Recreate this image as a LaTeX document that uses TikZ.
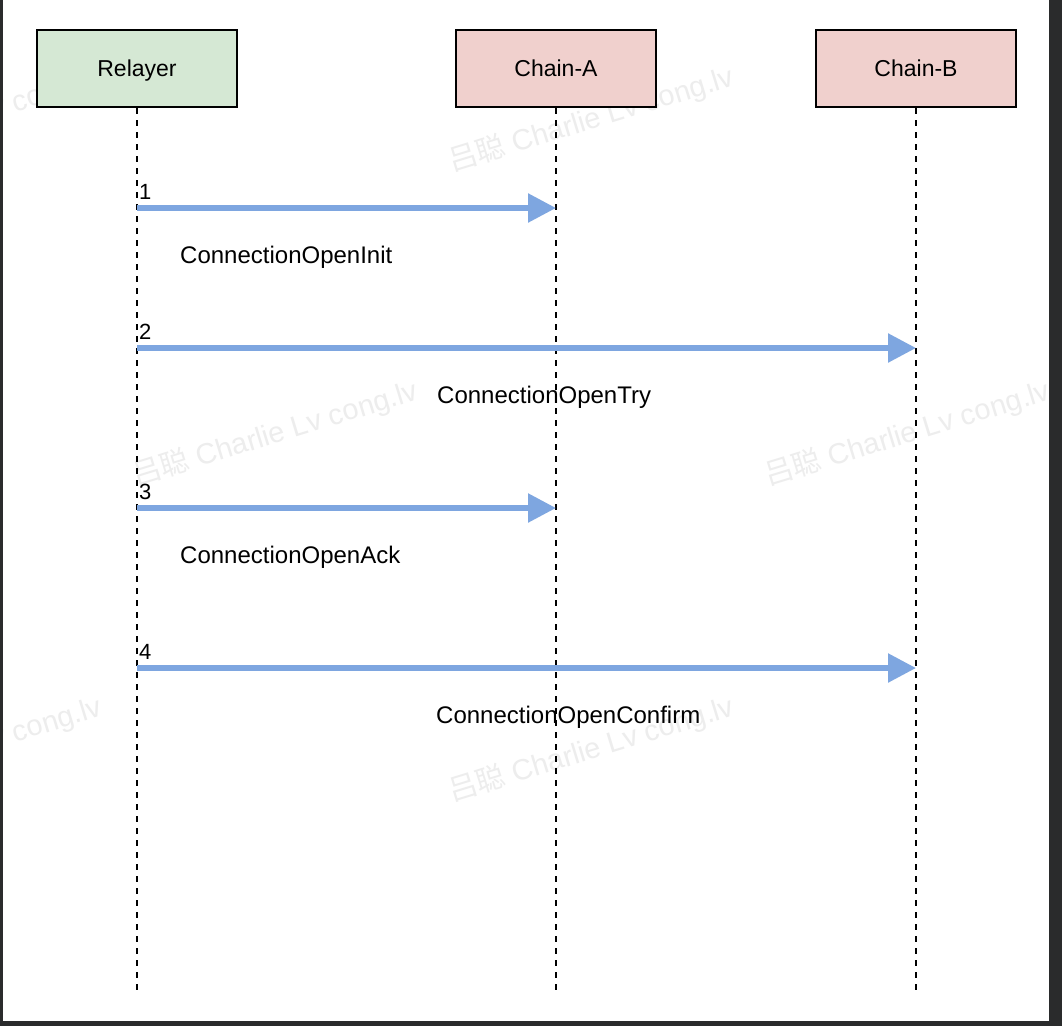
\documentclass[tikz,border=0pt]{standalone}
\usepackage{fontspec}
\setmainfont{Liberation Sans}
\newfontfamily\cjk{Noto Sans CJK SC}
\usepackage[svgnames]{xcolor}
\usepackage{tikz}
\usetikzlibrary{arrows.meta}
\definecolor{RelayerGreen}{HTML}{D5E8D4}
\definecolor{ChainRed}{HTML}{F0D0CD}
\definecolor{MsgBlue}{HTML}{7EA6E0}
\definecolor{FrameGrey}{HTML}{2A2B2C}

\begin{document}
\begin{tikzpicture}[x=1pt,y=-1pt]
        \tikzset{
            actor/.style={draw=black,line width=2pt,minimum width=200pt,minimum height=77pt,
                inner sep=0pt,text height=16.5pt,text depth=0pt,font=\fontsize{23}{28}\selectfont},
            lifeline/.style={line width=2pt,dash pattern=on 6pt off 6pt},
            message/.style={MsgBlue,line width=5.5pt,-{Triangle[length=28pt,width=28pt]}},
            msglabel/.style={anchor=west,inner sep=0pt,font=\fontsize{24}{29}\selectfont},
            msgnum/.style={anchor=south west,inner sep=0pt,font=\fontsize{22}{26}\selectfont},
            watermark/.style={anchor=base west,inner sep=0pt,rotate=17,text=black!7,
                font=\fontsize{29}{34}\selectfont}
        }

        % screenshot frame
        \useasboundingbox (0,0) rectangle (1062,1026);
        \fill[FrameGrey] (0,0) rectangle (1062,1026);
        \fill[white] (3,0) rectangle (1049,1021);

        \begin{scope}
            \clip (3,0) rectangle (1049,1021);
            \foreach \wx/\wy [count=\i] in {-180/172, 452/172, 136/486, 768/486, -180/802, 452/802} {
                \node[watermark] (wm\i) at (\wx,\wy) {{\cjk 吕聪} Charlie Lv cong.lv};
            }
        \end{scope}

        \node[actor,fill=RelayerGreen] (relayer) at (137,68.5) {Relayer};
        \node[actor,fill=ChainRed] (chainA) at (556,68.5) {Chain-A};
        \node[actor,fill=ChainRed] (chainB) at (916,68.5) {Chain-B};

        \foreach \a/\x in {relayer/137, chainA/556, chainB/916} {
            \coordinate (\a end) at (\x,990);
            \draw[lifeline] (\a) -- (\a end);
        }

        \foreach \n/\y/\dx/\lx/\txt in {1/208/556/180/ConnectionOpenInit,
                                        2/348/916/437/ConnectionOpenTry,
                                        3/508/556/180/ConnectionOpenAck,
                                        4/668/916/436/ConnectionOpenConfirm} {
            \coordinate (src\n) at (137,\y);
            \coordinate (dst\n) at (\dx,\y);
            \draw[message] (src\n) -- (dst\n);
            \node[msgnum] (num\n) at (139,\y-8) {\n};
            \node[msglabel] (msg\n) at (\lx,\y+49) {\txt};
        }
\end{tikzpicture}
\end{document}
